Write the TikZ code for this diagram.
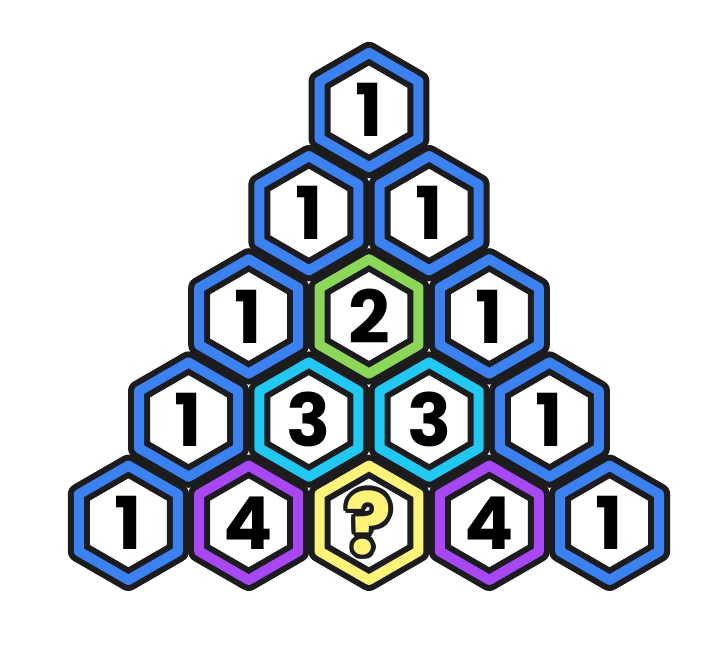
\documentclass[tikz,border=0pt]{standalone}
\usepackage{fontspec}
\newfontfamily\hexfont{Poppins}
\usetikzlibrary{shapes.geometric,calc}

\definecolor{ink}{RGB}{28,28,30}
\definecolor{hexblue}{RGB}{59,130,240}
\definecolor{hexgreen}{RGB}{140,214,88}
\definecolor{hexcyan}{RGB}{32,200,242}
\definecolor{hexpurple}{RGB}{168,72,245}
\definecolor{hexyellow}{RGB}{255,243,122}

\begin{document}
\begin{tikzpicture}[
  x=1pt, y=1pt,
  cell/.style={regular polygon, regular polygon sides=6, shape border rotate=30,
    minimum size=114.3pt, inner sep=0pt, draw=ink, line width=6pt,
    double distance=10pt, line join=round, fill=white,
    font=\hexfont\bfseries\fontsize{73}{73}\selectfont, text=black},
  qmark/.style={inner sep=0pt, font=\hexfont\bfseries\fontsize{86}{86}\selectfont}
]
\useasboundingbox (0,0) rectangle (721,648);

% Pascal triangle rows: row/col/value/colour
\foreach \r/\c/\v/\col in {0/0/1/hexblue,
    1/0/1/hexblue, 1/1/1/hexblue,
    2/0/1/hexblue, 2/1/2/hexgreen, 2/2/1/hexblue,
    3/0/1/hexblue, 3/1/3/hexcyan, 3/2/3/hexcyan, 3/3/1/hexblue,
    4/0/1/hexblue, 4/1/4/hexpurple, 4/2/{}/hexyellow, 4/3/4/hexpurple, 4/4/1/hexblue}
  \node[cell, double=\col] (h-\r-\c) at ({369+(\c-\r/2)*120.3},{538-103.2*\r}) {\v};

% Missing value, outlined question mark
\foreach \a in {0,30,...,330}
  \node[qmark, text=ink] (q-\a) at ($(h-4-2)+(\a:4.5pt)$) {?};
\node[qmark, text=hexyellow] (q) at (h-4-2) {?};

\end{tikzpicture}
\end{document}
